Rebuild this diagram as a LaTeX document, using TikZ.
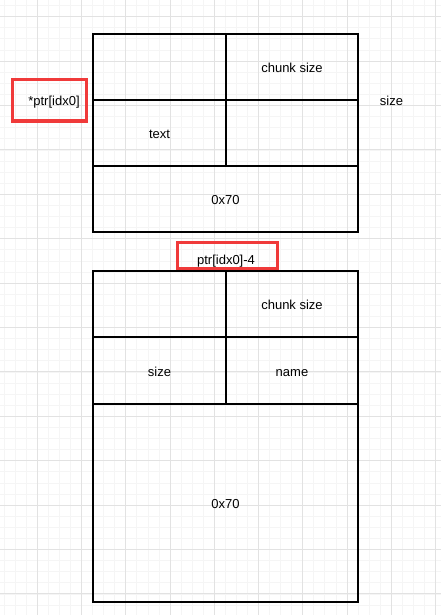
\documentclass[tikz,border=0pt]{standalone}
\usepackage{fontspec}
\setmainfont{Liberation Sans}
\usepackage{tikz}
\usetikzlibrary{positioning}
\definecolor{minorgray}{RGB}{245,245,245}
\definecolor{majorgray}{RGB}{226,226,226}
\definecolor{markred}{RGB}{240,58,58}
\tikzset{cell/.style={draw=black, line width=1.1pt, minimum width=#1, minimum height=66pt, inner sep=0pt, text height=11.5pt, text depth=0.5pt, font=\fontsize{13}{15}\selectfont},
  cell/.default=133pt,
  mark box/.style={draw=markred, line width=3pt, inner sep=0pt},
  lbl/.style={font=\fontsize{13}{15}\selectfont, inner sep=0pt, text height=11.5pt, text depth=0.5pt}}

\begin{document}
\begin{tikzpicture}[x=1pt, y=-1pt]
\useasboundingbox (0,0) rectangle (441,615);
\fill[white] (0,0) rectangle (441,615);
\foreach \i in {-3,...,37}
  \draw[minorgray, line width=0.8pt] ({37.3+11.06*\i},0) -- ({37.3+11.06*\i},615);
\foreach \j in {-1,...,54}
  \draw[minorgray, line width=0.8pt] (0,{16.7+11.1*\j}) -- (441,{16.7+11.1*\j});
\foreach \i in {-1,...,9}
  \draw[majorgray, line width=0.9pt] ({37.3+44.25*\i},0) -- ({37.3+44.25*\i},615);
\foreach \j in {0,...,13}
  \draw[majorgray, line width=0.9pt] (0,{16.7+44.4*\j}) -- (441,{16.7+44.4*\j});
\node[cell] (A1) at (159.5,67) {};
\node[cell=132pt] (A2) at (292,67) {chunk size};
\node[cell] (A3) at (159.5,133) {text};
\node[cell=132pt] (A4) at (292,133) {};
\node[cell=265pt] (A5) at (225.5,199) {0x70};
\node[cell] (B1) at (159.5,304) {};
\node[cell=132pt] (B2) at (292,304) {chunk size};
\node[cell] (B3) at (159.5,370.5) {size};
\node[cell=132pt] (B4) at (292,370.5) {name};
\node[cell=265pt, minimum height=198pt] (B5) at (225.5,503) {0x70};
\node[mark box, minimum width=74pt, minimum height=41pt] (P) at (49,100.5) {};
\node[lbl] (Ptxt) at (54,100) {*ptr[idx0]};
\node[mark box, minimum width=100pt, minimum height=25.5pt] (Q) at (227,255.7) {};
\node[lbl] (Qtxt) at (226,259.3) {ptr[idx0]-4};
\node[lbl] (S) at (391.5,100) {size};
    \end{tikzpicture}
\end{document}
